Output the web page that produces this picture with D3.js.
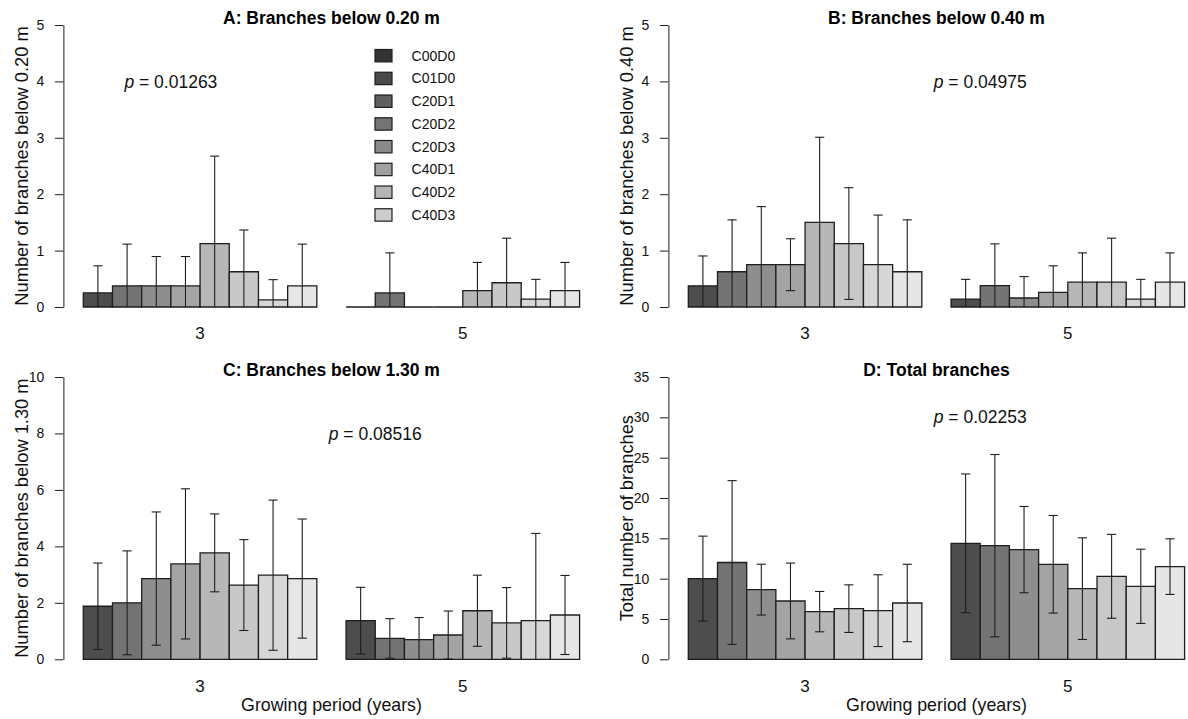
<!DOCTYPE html>
<html>
<head>
<meta charset="utf-8">
<script src="https://cdn.jsdelivr.net/npm/d3@7"></script>
<style>
  body { margin: 0; background: #fff; }
  svg { display: block; font-family: Arial, "Liberation Sans", sans-serif; }
</style>
</head>
<body>
<svg id="chart" width="1188" height="719"></svg>
<script>
// Treatments and growing periods
const treatments = ["C00D0", "C01D0", "C20D1", "C20D2", "C20D3", "C40D1", "C40D2", "C40D3"];
const periods = ["3", "5"];

// Fill shades for bars and for the legend keys
const barFills = ["#4d4d4d", "#737373", "#8e8e8e", "#a4a4a4", "#b7b7b7", "#c8c8c8", "#d7d7d7", "#e6e6e6"];
const legendFills = ["#333333", "#494949", "#5f5f5f", "#747474", "#8a8a8a", "#a0a0a0", "#b6b6b6", "#cccccc"];

// A: branches below 0.20 m (mean and standard deviation)
const below020Mean3 = [0.25, 0.375, 0.375, 0.375, 1.125, 0.625, 0.125, 0.375];
const below020Sd3   = [0.48, 0.74, 0.52, 0.52, 1.55, 0.74, 0.36, 0.74];
const below020Mean5 = [0, 0.25, 0, 0, 0.29, 0.43, 0.14, 0.29];
const below020Sd5   = [0, 0.71, 0, 0, 0.50, 0.79, 0.35, 0.50];

// B: branches below 0.40 m
const below040Mean3 = [0.375, 0.625, 0.75, 0.75, 1.5, 1.125, 0.75, 0.625];
const below040Sd3   = [0.53, 0.92, 1.03, 0.46, 1.51, 0.99, 0.88, 0.92];
const below040Mean5 = [0.14, 0.38, 0.16, 0.26, 0.44, 0.44, 0.14, 0.44];
const below040Sd5   = [0.35, 0.74, 0.38, 0.47, 0.52, 0.78, 0.35, 0.52];

// C: branches below 1.30 m
const below130Mean3 = [1.88, 2.0, 2.86, 3.38, 3.77, 2.63, 2.98, 2.86];
const below130Sd3   = [1.53, 1.84, 2.36, 2.66, 1.38, 1.61, 2.66, 2.11];
const below130Mean5 = [1.37, 0.74, 0.70, 0.86, 1.72, 1.29, 1.37, 1.57];
const below130Sd5   = [1.18, 0.70, 0.78, 0.85, 1.26, 1.25, 3.09, 1.40];

// D: total branches
const totalMean3 = [10.0, 12.0, 8.64, 7.23, 5.91, 6.28, 6.03, 6.98];
const totalSd3   = [5.27, 10.15, 3.15, 4.7, 2.5, 2.95, 4.45, 4.8];
const totalMean5 = [14.38, 14.09, 13.6, 11.78, 8.76, 10.29, 9.05, 11.49];
const totalSd5   = [8.6, 11.3, 5.35, 6.05, 6.3, 5.2, 4.6, 3.45];

// Axis tick values
const ticksA = [0, 1, 2, 3, 4, 5];
const ticksB = [0, 1, 2, 3, 4, 5];
const ticksC = [0, 2, 4, 6, 8, 10];
const ticksD = [0, 5, 10, 15, 20, 25, 30, 35];

// p-values of the tests, printed in each panel
const pValues = ["0.01263", "0.04975", "0.08516", "0.02253"];

const panels = [
  { title: "A: Branches below 0.20 m", ylab: "Number of branches below 0.20 m",
    means: [below020Mean3, below020Mean5], sds: [below020Sd3, below020Sd5],
    ticks: ticksA, p: pValues[0], pAt: [4, 4], col: 0, row: 0, legend: true, xlab: false },
  { title: "B: Branches below 0.40 m", ylab: "Number of branches below 0.40 m",
    means: [below040Mean3, below040Mean5], sds: [below040Sd3, below040Sd5],
    ticks: ticksB, p: pValues[1], pAt: [11, 4], col: 1, row: 0, legend: false, xlab: false },
  { title: "C: Branches below 1.30 m", ylab: "Number of branches below 1.30 m",
    means: [below130Mean3, below130Mean5], sds: [below130Sd3, below130Sd5],
    ticks: ticksC, p: pValues[2], pAt: [11, 8], col: 0, row: 1, legend: false, xlab: true },
  { title: "D: Total branches", ylab: "Total number of branches",
    means: [totalMean3, totalMean5], sds: [totalSd3, totalSd5],
    ticks: ticksD, p: pValues[3], pAt: [11, 30], col: 1, row: 1, legend: false, xlab: true }
];

// Layout of the 2 x 2 grid
const colOffset = [0, 605];
const rowBase = [307, 659.3];   // pixel of y = 0
const rowTop = [25, 377];       // pixel of the top tick
const axisX = 63.4;
const barsLeft = 83.3, barsRight = 579.6;
const plotRight = 599.6;
const ink = "#1e1e1e";

const svg = d3.select("#chart");

panels.forEach(P => {
  const ox = colOffset[P.col];
  const g = svg.append("g").attr("transform", `translate(${ox},0)`);

  const y = d3.scaleLinear()
    .domain([0, d3.max(P.ticks)])
    .range([rowBase[P.row], rowTop[P.row]]);

  const xGroup = d3.scaleBand()
    .domain(periods)
    .range([barsLeft, barsRight])
    .paddingInner(1 / 9)
    .paddingOuter(0);

  const xBar = d3.scaleBand()
    .domain(treatments)
    .range([0, xGroup.bandwidth()])
    .padding(0);

  // bar-unit coordinates (1 at the left of the first bar) for annotations
  const xUnit = d3.scaleLinear().domain([1, 18]).range([barsLeft, barsRight]);

  const rows = [];
  periods.forEach((per, gi) => {
    treatments.forEach((t, ti) => {
      rows.push({ per, t, ti, mean: P.means[gi][ti], sd: P.sds[gi][ti] });
    });
  });

  // bars (outlined paths, so that zero-height bars still show as a line)
  g.append("g").selectAll("path")
    .data(rows)
    .join("path")
    .attr("d", d => {
      const x0 = xGroup(d.per) + xBar(d.t);
      const x1 = x0 + xBar.bandwidth();
      const y0 = y(0), y1 = y(d.mean);
      return `M${x0},${y0}V${y1}H${x1}V${y0}Z`;
    })
    .attr("fill", d => barFills[d.ti])
    .attr("stroke", ink)
    .attr("stroke-width", 1.3);

  // error bars: mean ± sd, cut at zero
  const capHalf = 4.6;
  const eb = g.append("g")
    .attr("stroke", ink)
    .attr("stroke-width", 1.1)
    .attr("fill", "none")
    .selectAll("g")
    .data(rows.filter(d => d.sd > 0))
    .join("g");

  const cx = d => xGroup(d.per) + xBar(d.t) + xBar.bandwidth() / 2;
  const lo = d => Math.max(0, d.mean - d.sd);
  const hi = d => d.mean + d.sd;

  eb.append("line")
    .attr("x1", cx).attr("x2", cx)
    .attr("y1", d => y(lo(d))).attr("y2", d => y(hi(d)));
  eb.append("line")
    .attr("x1", d => cx(d) - capHalf).attr("x2", d => cx(d) + capHalf)
    .attr("y1", d => y(hi(d))).attr("y2", d => y(hi(d)));
  eb.filter(d => d.mean - d.sd > 0)
    .append("line")
    .attr("x1", d => cx(d) - capHalf).attr("x2", d => cx(d) + capHalf)
    .attr("y1", d => y(lo(d))).attr("y2", d => y(lo(d)));

  // y axis
  const ax = g.append("g")
    .attr("transform", `translate(${axisX},0)`)
    .call(d3.axisLeft(y).tickValues(P.ticks).tickSize(8.5).tickSizeOuter(0).tickPadding(10.5)
      .tickFormat(d3.format("d")));
  ax.select(".domain").attr("stroke", ink);
  ax.selectAll(".tick line").attr("stroke", ink);
  ax.selectAll(".tick text")
    .attr("font-size", 14)
    .attr("font-family", "Arial, 'Liberation Sans', sans-serif")
    .attr("fill", "#111");

  // group labels
  g.append("g").selectAll("text")
    .data(periods)
    .join("text")
    .attr("x", d => xGroup(d) + xGroup.bandwidth() / 2)
    .attr("y", rowBase[P.row] + 32.4)
    .attr("text-anchor", "middle")
    .attr("font-size", 17)
    .attr("fill", "#111")
    .text(d => d);

  const plotMid = (axisX + plotRight) / 2;

  // title
  g.append("text")
    .attr("x", plotMid)
    .attr("y", rowTop[P.row] - 1)
    .attr("text-anchor", "middle")
    .attr("font-size", 17.5)
    .attr("font-weight", "bold")
    .attr("fill", "#000")
    .text(P.title);

  // y label
  g.append("text")
    .attr("transform", `translate(27.6,${(rowBase[P.row] + rowTop[P.row]) / 2}) rotate(-90)`)
    .attr("text-anchor", "middle")
    .attr("font-size", 18.3)
    .attr("fill", "#111")
    .text(P.ylab);

  // x label
  if (P.xlab) {
    g.append("text")
      .attr("x", plotMid)
      .attr("y", 711)
      .attr("text-anchor", "middle")
      .attr("font-size", 17.8)
      .attr("fill", "#111")
      .text("Growing period (years)");
  }

  // p-value
  const pt = g.append("text")
    .attr("x", xUnit(P.pAt[0]))
    .attr("y", y(P.pAt[1]))
    .attr("dy", "0.35em")
    .attr("text-anchor", "middle")
    .attr("font-size", 17.5)
    .attr("fill", "#111");
  pt.append("tspan").attr("font-style", "italic").text("p");
  pt.append("tspan").text(" = " + P.p);

  // legend
  if (P.legend) {
    const lg = g.append("g").selectAll("g")
      .data(treatments)
      .join("g")
      .attr("transform", (d, i) => `translate(375,${55.7 + i * 22.75})`);
    lg.append("rect")
      .attr("x", 0).attr("y", -6.2)
      .attr("width", 17).attr("height", 12.4)
      .attr("fill", (d, i) => legendFills[i])
      .attr("stroke", ink)
      .attr("stroke-width", 1.2);
    lg.append("text")
      .attr("x", 36.6)
      .attr("dy", "0.35em")
      .attr("font-size", 14)
      .attr("fill", "#111")
      .text(d => d);
  }
});
</script>
</body>
</html>
